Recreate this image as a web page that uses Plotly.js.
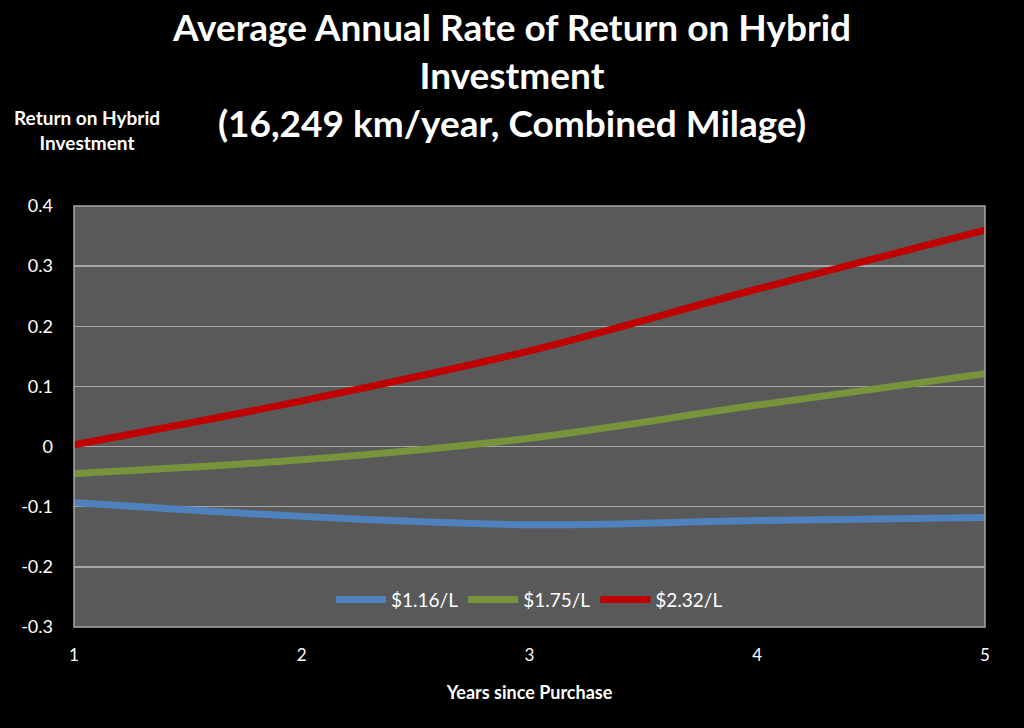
<!DOCTYPE html>
<html>
<head>
<meta charset="utf-8">
<script src="https://cdn.plot.ly/plotly-3.0.1.min.js"></script>
<style>html,body{margin:0;padding:0;background:#000;}#chart{width:1024px;height:728px;}</style>
</head>
<body>
<div id="chart"></div>
<script>
const years = [1, 2, 3, 4, 5];
const seriesNames = ['$1.16/L', '$1.75/L', '$2.32/L'];
const return116 = [-0.093, -0.116, -0.130, -0.123, -0.118];
const return175 = [-0.045, -0.022, 0.014, 0.069, 0.121];
const return232 = [0.003, 0.076, 0.159, 0.262, 0.360];
const yTicks = [-0.3, -0.2, -0.1, 0, 0.1, 0.2, 0.3, 0.4];
const yTickLabels = ['-0.3', '-0.2', '-0.1', '0', '0.1', '0.2', '0.3', '0.4'];
const colors = ['#4F81BD', '#77933C', '#C00000'];
const values = [return116, return175, return232];

const font = 'Lato, "Open Sans", sans-serif';
const traces = values.map((v, i) => ({
  x: years, y: v, name: seriesNames[i], type: 'scatter', mode: 'lines',
  line: {color: colors[i], width: 7, shape: 'spline', smoothing: 1}
}));

const layout = {
  width: 1024, height: 728,
  paper_bgcolor: '#000000', plot_bgcolor: '#595959',
  margin: {l: 74, r: 39, t: 206, b: 101},
  font: {family: font, color: '#FFFFFF', size: 16},
  title: {
    text: '<b>Average Annual Rate of Return on Hybrid<br>Investment<br>(16,249 km/year, Combined Milage)</b>',
    font: {family: font, size: 37, color: '#FFFFFF'},
    x: 0.5, xanchor: 'center', yref: 'container', y: 0.944, yanchor: 'middle'
  },
  xaxis: {
    range: [1, 5], tickvals: years, ticktext: years.map(String),
    showgrid: false, zeroline: false, showline: false,
    tickfont: {family: font, size: 17, color: '#FFFFFF'}, ticks: '', ticklen: 0,
    ticklabelstandoff: 16,
    title: {text: '<b>Years since Purchase</b>', font: {family: font, size: 18, color: '#FFFFFF'}, standoff: 22}
  },
  yaxis: {
    range: [-0.3, 0.4], tickvals: yTicks, ticktext: yTickLabels,
    showgrid: true, gridcolor: '#A6A6A6', gridwidth: 1.5, zeroline: false, showline: false,
    tickfont: {family: font, size: 18, color: '#FFFFFF'}, ticks: '', ticklen: 0,
    ticklabelstandoff: 20
  },
  shapes: [{type: 'rect', xref: 'paper', yref: 'paper', x0: 0, x1: 1, y0: 0, y1: 1,
            line: {color: '#A6A6A6', width: 1.5}, fillcolor: 'rgba(0,0,0,0)', layer: 'above'}],
  legend: {
    orientation: 'h', x: 0.5, xanchor: 'center', y: 0.065, yanchor: 'middle',
    bgcolor: 'rgba(0,0,0,0)', font: {family: font, size: 19, color: '#FFFFFF'},
    itemwidth: 50, tracegroupgap: 0
  },
  annotations: [{
    text: '<b>Return on Hybrid<br>Investment</b>', xref: 'paper', yref: 'paper',
    x: 0.014, y: 1.18, xanchor: 'center', yanchor: 'middle', showarrow: false,
    font: {family: font, size: 19, color: '#FFFFFF'}
  }]
};
Plotly.newPlot('chart', traces, layout, {displayModeBar: false, staticPlot: true});
</script>
</body>
</html>
